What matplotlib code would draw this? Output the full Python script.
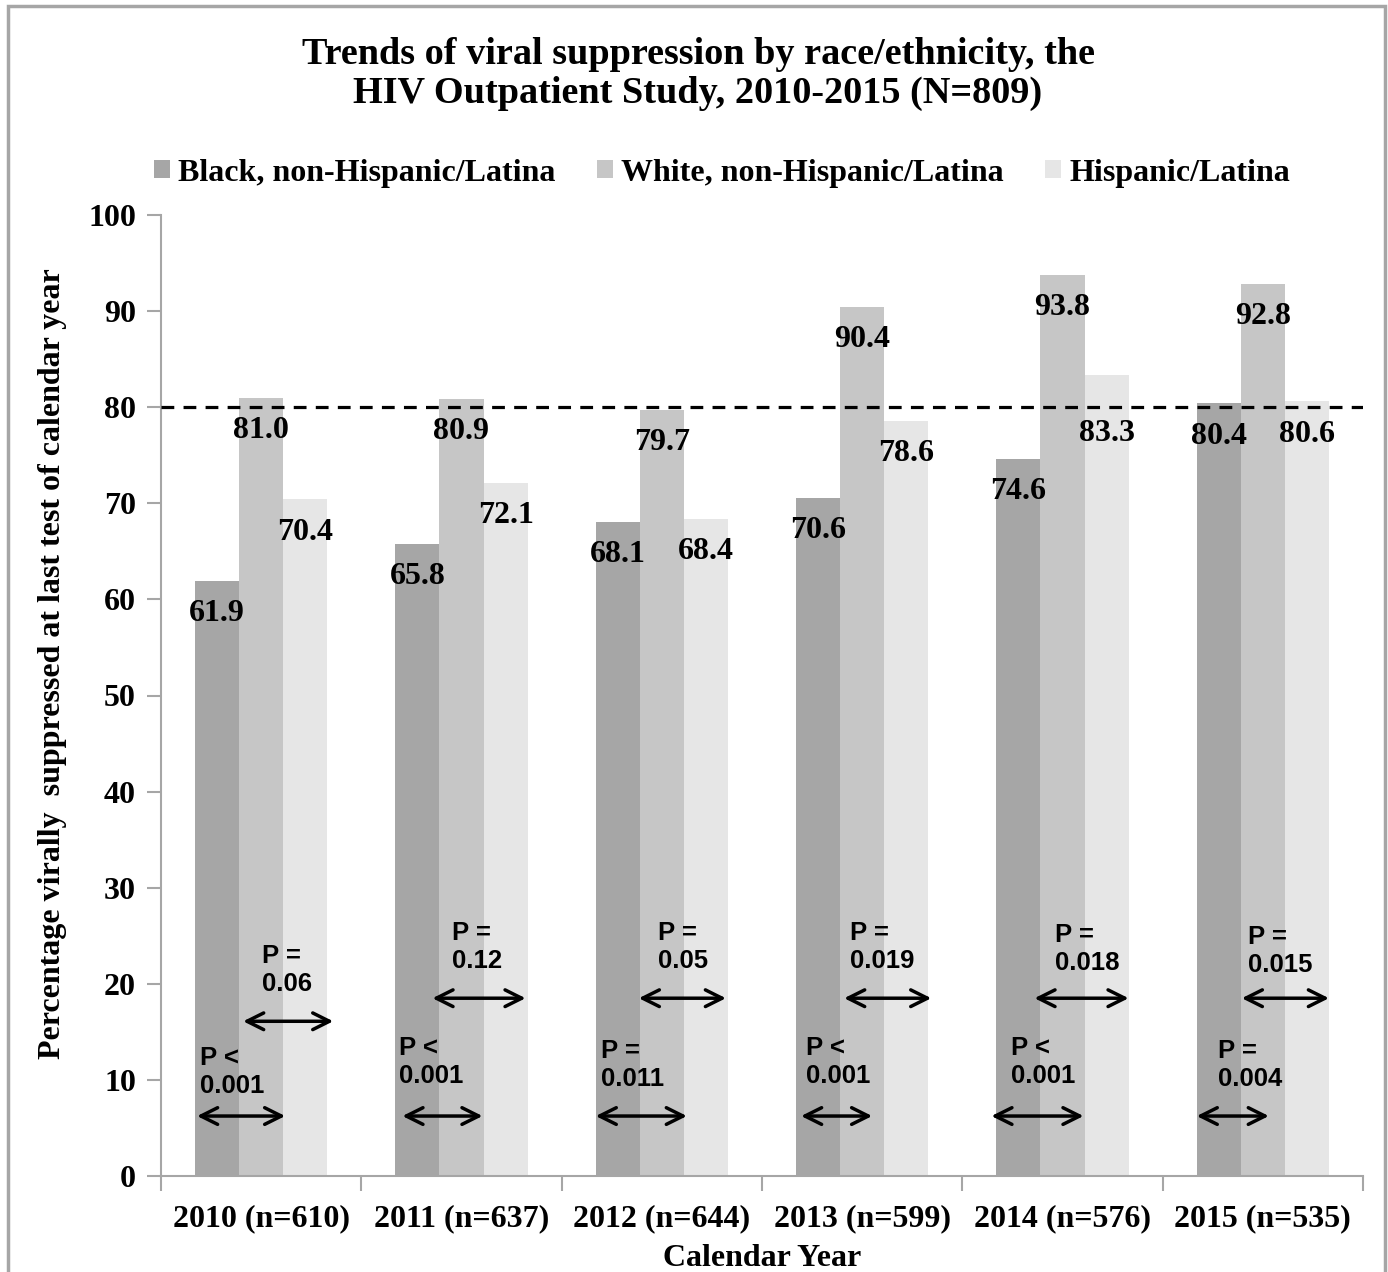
import matplotlib
matplotlib.use("Agg")
import matplotlib.pyplot as plt
from matplotlib.patches import Rectangle, Patch
import numpy as np

# ---- data ----
categories = ["2010 (n=610)", "2011 (n=637)", "2012 (n=644)",
              "2013 (n=599)", "2014 (n=576)", "2015 (n=535)"]
series_names = ["Black, non-Hispanic/Latina", "White, non-Hispanic/Latina", "Hispanic/Latina"]
black = [61.9, 65.8, 68.1, 70.6, 74.6, 80.4]
white = [81.0, 80.9, 79.7, 90.4, 93.8, 92.8]
hispanic = [70.4, 72.1, 68.4, 78.6, 83.3, 80.6]
p_black_white = ["P <\n0.001", "P <\n0.001", "P =\n0.011", "P <\n0.001", "P <\n0.001", "P =\n0.004"]
p_white_hisp = ["P =\n0.06", "P =\n0.12", "P =\n0.05", "P =\n0.019", "P =\n0.018", "P =\n0.015"]
target = 80
yticks = list(range(0, 101, 10))

# label drop below bar top (data units), per series per year
label_drop = [[3.4] * 6, [3.4] * 6, [3.4, 3.4, 3.4, 3.4, 6.0, 3.4]]

# annotation layout (offsets relative to group centre, data units)
low_arrow = [(-0.32, 0.12), (-0.295, 0.105), (-0.33, 0.125), (-0.305, 0.05), (-0.355, 0.105), (-0.33, 0.03)]
up_arrow = [(-0.09, 0.36), (-0.145, 0.32), (-0.115, 0.32), (-0.09, 0.345), (-0.14, 0.33), (-0.105, 0.33)]
low_arrow_y = 6.24
up_arrow_y = [16.1, 18.5, 18.5, 18.5, 18.5, 18.5]
low_text = [(-0.305, 10.8), (-0.31, 11.9), (-0.305, 11.55), (-0.28, 11.9), (-0.255, 11.9), (-0.225, 11.55)]
up_text = [(0.005, 21.4), (-0.045, 23.8), (-0.02, 23.8), (-0.06, 23.8), (-0.035, 23.6), (-0.075, 23.4)]

colors = ["#a6a6a6", "#c6c6c6", "#e6e6e6"]
serif = "Liberation Serif"
sans = "Liberation Sans"

fig = plt.figure(figsize=(13.88, 12.72), dpi=100)
fig.patches.append(Rectangle((8 / 1388, -0.01), (1385 - 8) / 1388, 1 - 6 / 1272 + 0.01,
                             transform=fig.transFigure, fill=False,
                             edgecolor="#a6a6a6", linewidth=2.5, zorder=0))

ax = fig.add_axes([161 / 1388, 1 - 1176 / 1272, (1363 - 161) / 1388, (1176 - 215) / 1272])
x = np.arange(len(categories))
w = 0.22
for i, (vals, c) in enumerate(zip([black, white, hispanic], colors)):
    ax.bar(x + (i - 1) * w, vals, width=w, color=c, edgecolor="none", zorder=2)
    for j, (xi, v) in enumerate(zip(x, vals)):
        ax.text(xi + (i - 1) * w, v - label_drop[i][j], f"{v:.1f}", ha="center", va="center",
                fontsize=23, fontweight="bold", family=serif, zorder=5)

ax.axhline(target, color="black", lw=2.3, linestyle=(0, (4, 2.9)), zorder=4)

ax.set_xlim(-0.5, len(categories) - 0.5)
ax.set_ylim(0, 100)
ax.set_yticks(yticks)
ax.set_yticklabels([str(t) for t in yticks], fontsize=23, fontweight="bold", family=serif)
ax.set_xticks(np.arange(-0.5, len(categories), 1.0))
ax.set_xticklabels([])
ax.set_xticks(x, minor=True)
ax.set_xticklabels(categories, minor=True, fontsize=23, fontweight="bold", family=serif)
ax.tick_params(axis="x", which="minor", length=0, pad=20)
ax.tick_params(axis="x", which="major", length=11, width=1.5, color="#a6a6a6", direction="out")
ax.tick_params(axis="y", length=10, width=1.5, color="#a6a6a6", direction="out", pad=8)
for s in ["top", "right"]:
    ax.spines[s].set_visible(False)
for s in ["left", "bottom"]:
    ax.spines[s].set_color("#a6a6a6")
    ax.spines[s].set_linewidth(1.5)

ax.set_xlabel("Calendar Year", fontsize=23, fontweight="bold", family=serif, labelpad=8)
ax.set_ylabel("Percentage virally  suppressed at last test of calendar year",
              fontsize=23, fontweight="bold", family=serif)
ax.yaxis.set_label_coords(-0.078, 0.533)

# p-value annotations
for i in range(len(categories)):
    a0, a1 = low_arrow[i]
    ax.annotate("", xy=(i + a0, low_arrow_y), xytext=(i + a1, low_arrow_y),
                arrowprops=dict(arrowstyle="<->", color="black", lw=2.5, mutation_scale=30,
                                shrinkA=0, shrinkB=0), zorder=6)
    b0, b1 = up_arrow[i]
    ax.annotate("", xy=(i + b0, up_arrow_y[i]), xytext=(i + b1, up_arrow_y[i]),
                arrowprops=dict(arrowstyle="<->", color="black", lw=2.5, mutation_scale=30,
                                shrinkA=0, shrinkB=0), zorder=6)
    tx, ty = low_text[i]
    ax.text(i + tx, ty, p_black_white[i], ha="left", va="center", fontsize=18.5,
            fontweight="bold", family=sans, linespacing=1.2, zorder=6)
    tx, ty = up_text[i]
    ax.text(i + tx, ty, p_white_hisp[i], ha="left", va="center", fontsize=18.5,
            fontweight="bold", family=sans, linespacing=1.2, zorder=6)

fig.text(698 / 1388, 1 - 74 / 1272,
         "Trends of viral suppression by race/ethnicity, the\nHIV Outpatient Study, 2010-2015 (N=809)",
         ha="center", va="center", fontsize=27.5, fontweight="bold", family=serif, linespacing=1.15)

handles = [Patch(facecolor=c, edgecolor="none") for c in colors]
fig.legend(handles, series_names, loc="center", bbox_to_anchor=(722 / 1388, 1 - 173 / 1272),
           ncol=3, frameon=False, handlelength=0.5, handleheight=0.5, handletextpad=0.25,
           columnspacing=1.3, prop=dict(family=serif, weight="bold", size=23))

fig.savefig("out.png", dpi=100)
